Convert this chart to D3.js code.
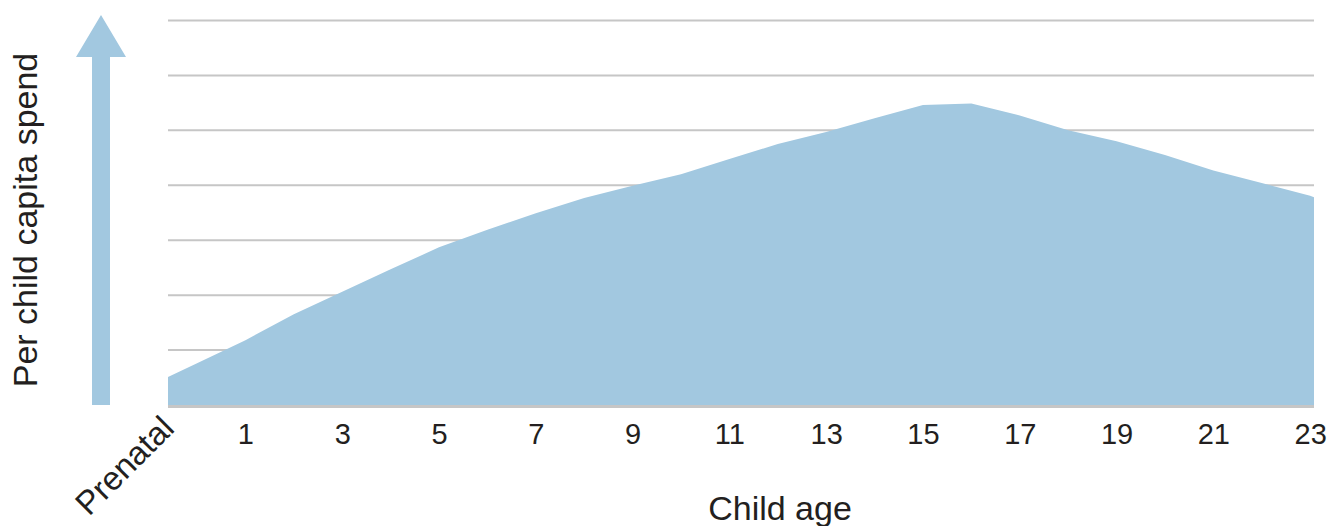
<!DOCTYPE html>
<html>
<head>
<meta charset="utf-8">
<script src="https://cdn.jsdelivr.net/npm/d3@7"></script>
<style>
  html, body { margin: 0; padding: 0; background: #ffffff; }
  svg { display: block; }
  text { font-family: "Liberation Sans", Arial, sans-serif; fill: #231f20; }
</style>
</head>
<body>
<svg id="chart" width="1329" height="526"></svg>
<script>
// Child age; the prenatal period sits just left of age 0
const ages = [-0.6, 0, 1, 2, 3, 4, 5, 6, 7, 8, 9, 10, 11, 12, 13, 14, 15, 16, 17, 18, 19, 20, 21, 22, 23, 23.08];
// Relative per child capita spend (unitless index)
const spend = [0.51, 0.76, 1.18, 1.65, 2.06, 2.47, 2.87, 3.19, 3.49, 3.77, 3.99, 4.2, 4.48, 4.75, 4.97, 5.22, 5.46, 5.49, 5.27, 5.0, 4.8, 4.55, 4.27, 4.04, 3.81, 3.78];
// Axis tick labels
const tickAges = [1, 3, 5, 7, 9, 11, 13, 15, 17, 19, 21, 23];
const prenatalLabel = "Prenatal";
const gridLevels = [1, 2, 3, 4, 5, 6, 7];

const svg = d3.select("#chart");
const plotLeft = 168, plotRight = 1314, plotTop = 20.5, plotBottom = 405;

const x = d3.scaleLinear().domain([-0.6, 23.08]).range([plotLeft, plotRight]);
const y = d3.scaleLinear().domain([0, 7]).range([plotBottom, plotTop]);

const data = ages.map((a, i) => ({ age: a, value: spend[i] }));

// horizontal grid lines
svg.append("g")
  .selectAll("line")
  .data(gridLevels)
  .join("line")
  .attr("x1", plotLeft).attr("x2", plotRight)
  .attr("y1", d => y(d)).attr("y2", d => y(d))
  .attr("stroke", "#c6c6c6")
  .attr("stroke-width", 2);

// spend area
const area = d3.area()
  .x(d => x(d.age))
  .y0(y(0))
  .y1(d => y(d.value))
  .curve(d3.curveLinear);

svg.append("path")
  .datum(data)
  .attr("d", area)
  .attr("fill", "#a2c8e0");

// baseline
svg.append("line")
  .attr("x1", plotLeft).attr("x2", plotRight)
  .attr("y1", y(0) + 1.5).attr("y2", y(0) + 1.5)
  .attr("stroke", "#c6c6c6")
  .attr("stroke-width", 3);

// x axis tick labels
const xAxis = d3.axisBottom(x)
  .tickValues(tickAges)
  .tickSize(0)
  .tickPadding(0)
  .tickFormat(d3.format("d"));

const gx = svg.append("g")
  .attr("transform", `translate(0,${plotBottom})`)
  .call(xAxis);
gx.select(".domain").remove();
gx.selectAll("text")
  .attr("y", 39)
  .attr("dy", 0)
  .attr("font-size", 29)
  .attr("font-family", "Liberation Sans, Arial, sans-serif")
  .attr("fill", "#231f20");

// rotated prenatal label
svg.append("text")
  .attr("transform", `translate(${x(-0.6) + 8},${plotBottom + 25}) rotate(-45)`)
  .attr("text-anchor", "end")
  .attr("font-size", 33)
  .text(prenatalLabel);

// axis titles
svg.append("text")
  .attr("x", 780).attr("y", 520)
  .attr("text-anchor", "middle")
  .attr("font-size", 34)
  .text("Child age");

svg.append("text")
  .attr("transform", `translate(37,220) rotate(-90)`)
  .attr("text-anchor", "middle")
  .attr("font-size", 34)
  .text("Per child capita spend");

// upward arrow beside the y title
const arrowX = 101;
const arrow = d3.path();
arrow.moveTo(arrowX - 9, plotBottom);
arrow.lineTo(arrowX - 9, 57);
arrow.lineTo(arrowX - 25, 57);
arrow.lineTo(arrowX, 15);
arrow.lineTo(arrowX + 25, 57);
arrow.lineTo(arrowX + 9, 57);
arrow.lineTo(arrowX + 9, plotBottom);
arrow.closePath();
svg.append("path")
  .attr("d", arrow.toString())
  .attr("fill", "#a2c8e0");
</script>
</body>
</html>
